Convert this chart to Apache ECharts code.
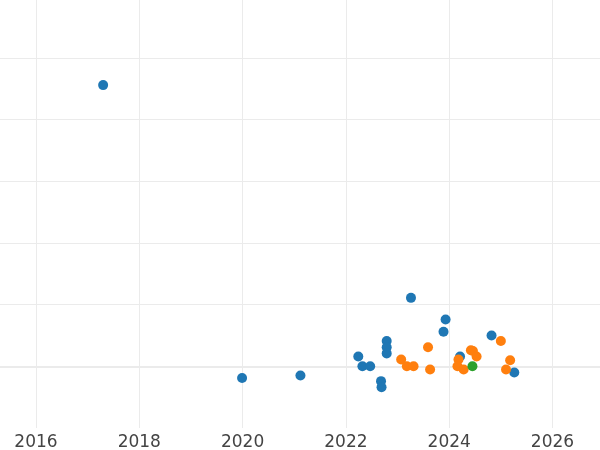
<!DOCTYPE html>
<html>
<head>
<meta charset="utf-8">
<script src="https://cdn.jsdelivr.net/npm/echarts@6/dist/echarts.min.js"></script>
<style>
  html, body { margin: 0; padding: 0; background: #fff; }
  #chart { width: 600px; height: 450px; }
</style>
</head>
<body>
<div id="chart"></div>
<script>
// [year, value]
const blueSeries = [
  [2017.30, 4.56], [2019.99, -0.19], [2021.12, -0.15], [2022.24, 0.16],
  [2022.32, 0.0], [2022.47, 0.0], [2022.79, 0.41], [2022.79, 0.31],
  [2022.79, 0.21], [2022.68, -0.24], [2022.69, -0.34], [2023.26, 1.11],
  [2023.93, 0.76], [2023.89, 0.56], [2024.21, 0.16], [2024.82, 0.50],
  [2025.26, -0.10]
]
const orangeSeries = [
  [2023.07, 0.11], [2023.18, 0.0], [2023.31, 0.0], [2023.59, 0.31],
  [2023.63, -0.05], [2024.18, 0.11], [2024.16, 0.0], [2024.28, -0.05],
  [2024.42, 0.26], [2024.46, 0.25], [2024.53, 0.16], [2025.0, 0.41],
  [2025.18, 0.10], [2025.10, -0.05]
]
const greenSeries = [
  [2024.45, 0.0]
]
const xTicks = [2014, 2016, 2018, 2020, 2022, 2024, 2026, 2028]

const chart = echarts.init(document.getElementById('chart'))

const gridColor = '#ebebeb'

function dots(name, data, color) {
  return {
    name: name,
    type: 'scatter',
    symbol: 'circle',
    symbolSize: 10,
    itemStyle: { color: color, opacity: 1 },
    data: data
  }
}

chart.setOption({
  animation: false,
  backgroundColor: '#fff',
  grid: {
    left: -67.3, right: -55.8, top: 0, bottom: 22,
    containLabel: false,
    outerBoundsMode: 'none'
  },
  xAxis: {
    type: 'value',
    min: xTicks[0],
    max: xTicks[xTicks.length - 1],
    interval: 2,
    // zero line, a bit heavier than the grid
    axisLine: { show: true, onZero: true, lineStyle: { color: gridColor, width: 2 } },
    axisTick: { show: false },
    axisLabel: {
      color: '#444',
      fontFamily: 'DejaVu Sans',
      fontSize: 17,
      margin: 6,
      formatter: v => String(v)
    },
    splitLine: { lineStyle: { color: gridColor, width: 1 } }
  },
  yAxis: {
    type: 'value',
    min: -1,
    max: 5.94,
    interval: 1,
    axisLine: { show: false },
    axisTick: { show: false },
    axisLabel: { show: false },
    splitLine: {
      showMinLine: false,
      showMaxLine: false,
      lineStyle: { color: gridColor, width: 1 }
    }
  },
  series: [
    dots('blue', blueSeries, '#1f77b4'),
    dots('orange', orangeSeries, '#ff7f0e'),
    dots('green', greenSeries, '#2ca02c')
  ]
})
</script>
</body>
</html>
